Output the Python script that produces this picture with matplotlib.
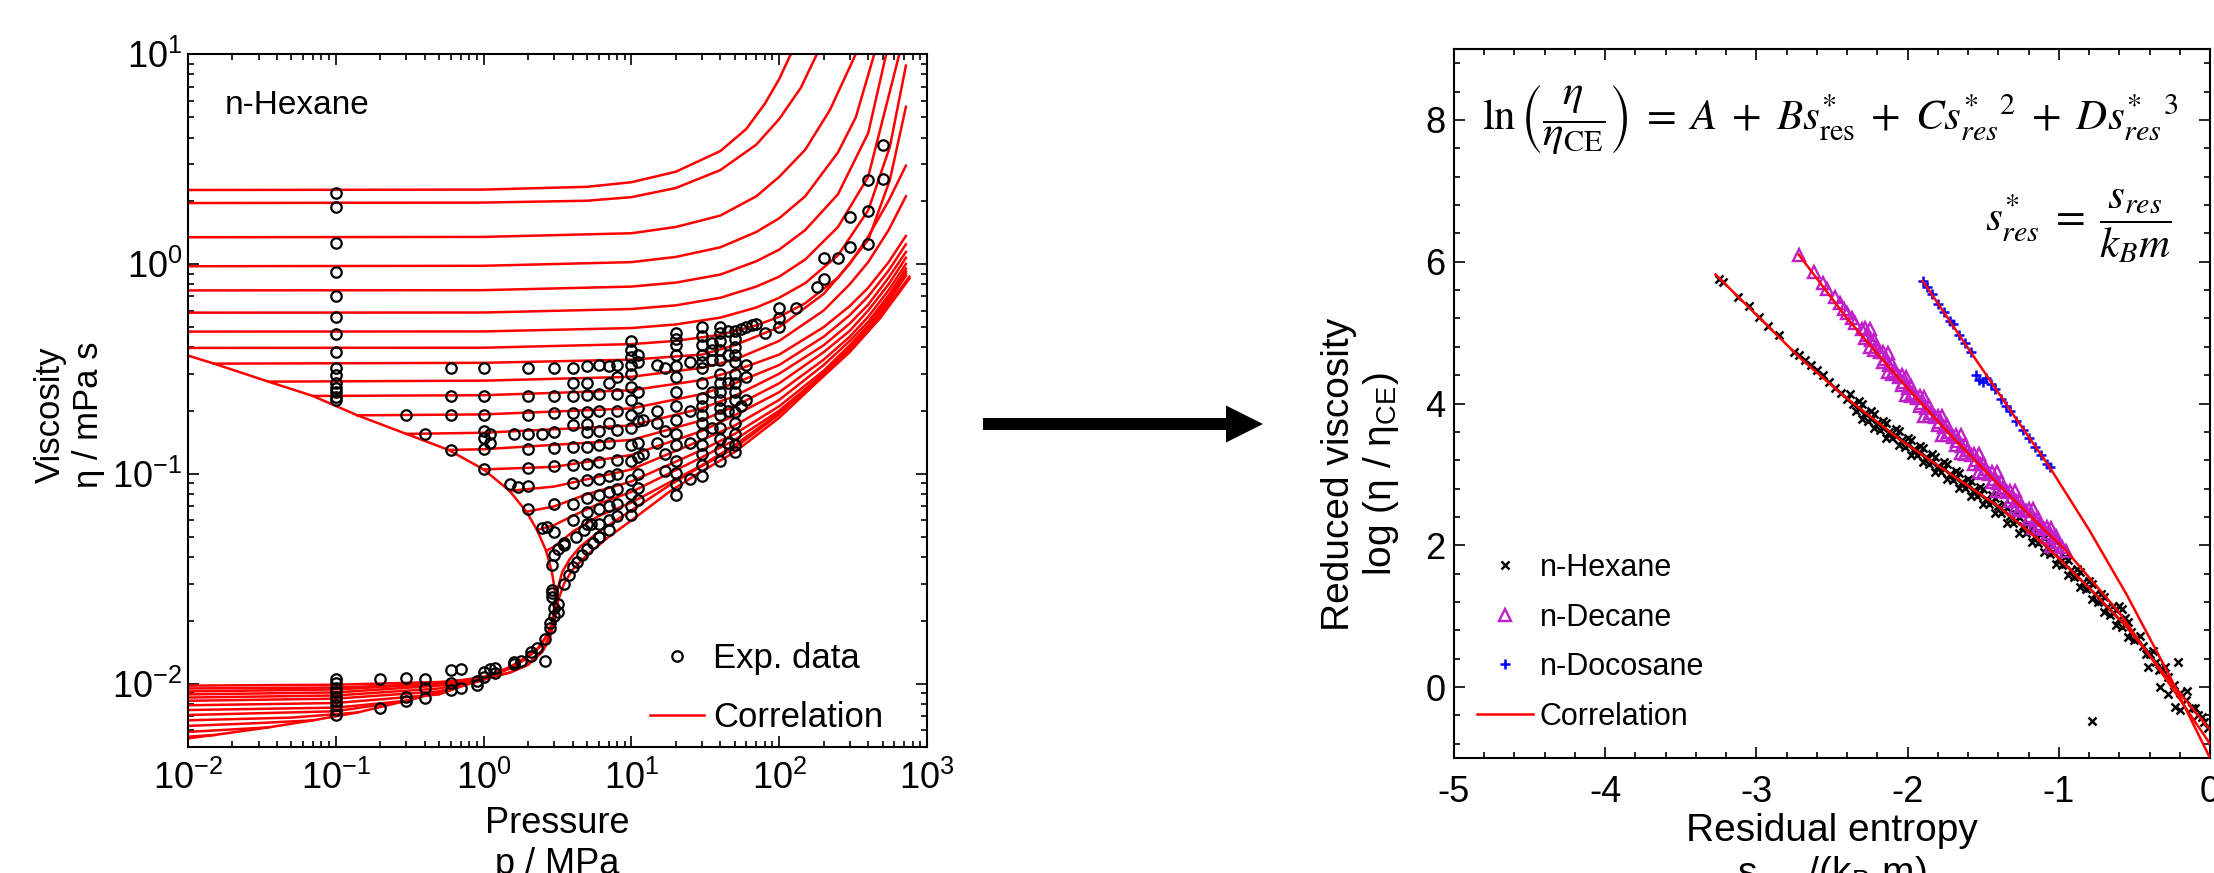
import numpy as np
import matplotlib
matplotlib.use("Agg")
import matplotlib.pyplot as plt
from matplotlib.patches import FancyArrow
from matplotlib.ticker import LogLocator, MultipleLocator, FuncFormatter, NullFormatter

plt.rcParams['font.family'] = ['Liberation Sans', 'DejaVu Sans']
plt.rcParams['mathtext.fontset'] = 'stix'
plt.rcParams['axes.unicode_minus'] = False

# ---------------- LEFT PANEL DATA (n-Hexane, p in MPa, eta in mPa s) ----------------
liq_left_p = [
    [0.01, 1, 5, 10, 20, 40, 60, 80, 100, 120],
    [0.01, 1, 5, 10, 20, 40, 70, 100, 140, 180],
    [0.01, 1, 10, 20, 40, 70, 100, 150, 220, 330],
    [0.01, 1, 10, 20, 40, 70, 100, 150, 250, 330, 440],
    [0.01, 1, 10, 20, 40, 70, 100, 150, 250, 400, 530],
    [0.01, 1, 10, 20, 40, 70, 100, 150, 250, 400, 650],
    [0.01, 1, 10, 20, 40, 70, 100, 150, 250, 400, 560, 720],
    [0.01, 1, 10, 20, 40, 70, 100, 150, 250, 400, 560, 720],
]
liq_left_eta = [
    [2.25, 2.26, 2.33, 2.45, 2.75, 3.45, 4.4, 5.8, 7.6, 10.0],
    [1.95, 1.96, 2.0, 2.08, 2.3, 2.8, 3.7, 4.9, 6.9, 10.0],
    [1.34, 1.345, 1.4, 1.5, 1.7, 2.1, 2.6, 3.5, 5.4, 10.0],
    [0.975, 0.98, 1.02, 1.08, 1.2, 1.42, 1.65, 2.1, 3.4, 5.0, 10.0],
    [0.748, 0.75, 0.78, 0.815, 0.89, 1.03, 1.17, 1.45, 2.15, 4.2, 10.0],
    [0.586, 0.587, 0.61, 0.635, 0.69, 0.78, 0.87, 1.05, 1.5, 2.6, 10.0],
    [0.476, 0.477, 0.495, 0.515, 0.555, 0.62, 0.69, 0.81, 1.1, 1.8, 3.6, 8.8],
    [0.398, 0.399, 0.415, 0.43, 0.46, 0.51, 0.56, 0.65, 0.86, 1.3, 2.5, 5.6],
]
liq_sat_p = [
    [0.015, 1, 10, 30, 50, 100, 200, 300, 400, 550, 720],
    [0.035, 1, 10, 30, 50, 100, 200, 300, 400, 550, 720],
    [0.07, 1, 10, 30, 50, 100, 200, 300, 400, 550, 720],
    [0.14, 1, 10, 30, 50, 100, 200, 300, 400, 550, 720],
    [0.3, 1, 10, 30, 50, 100, 200, 300, 400, 550, 720],
    [0.58, 1, 10, 30, 50, 100, 200, 300, 400, 550, 720],
    [1.0, 3, 10, 30, 50, 100, 200, 300, 400, 550, 720],
    [1.5, 3, 10, 30, 50, 100, 200, 300, 400, 550, 720],
    [1.95, 3, 5, 10, 30, 50, 100, 200, 300, 400, 550, 720],
    [2.3, 3, 4, 6, 10, 30, 50, 100, 200, 300, 400, 550, 720],
    [2.65, 3, 3.5, 4, 6, 10, 30, 50, 100, 200, 300, 400, 550, 720],
]
liq_sat_eta = [
    [0.335, 0.338, 0.35, 0.37, 0.41, 0.5, 0.72, 1.0, 1.35, 2.0, 2.94],
    [0.275, 0.278, 0.29, 0.32, 0.35, 0.43, 0.6, 0.8, 1.02, 1.45, 2.1],
    [0.235, 0.237, 0.25, 0.28, 0.31, 0.37, 0.5, 0.63, 0.77, 1.02, 1.36],
    [0.19, 0.192, 0.205, 0.24, 0.27, 0.33, 0.45, 0.57, 0.7, 0.93, 1.24],
    [0.155, 0.157, 0.17, 0.205, 0.235, 0.3, 0.41, 0.52, 0.64, 0.86, 1.14],
    [0.13, 0.131, 0.145, 0.18, 0.21, 0.27, 0.38, 0.48, 0.6, 0.8, 1.07],
    [0.105, 0.108, 0.123, 0.16, 0.19, 0.245, 0.35, 0.45, 0.56, 0.75, 1.0],
    [0.083, 0.087, 0.105, 0.145, 0.17, 0.225, 0.33, 0.43, 0.53, 0.71, 0.95],
    [0.066, 0.07, 0.08, 0.092, 0.13, 0.155, 0.21, 0.31, 0.41, 0.51, 0.69, 0.92],
    [0.054, 0.057, 0.063, 0.072, 0.082, 0.12, 0.145, 0.2, 0.3, 0.4, 0.5, 0.67, 0.9],
    [0.043, 0.045, 0.049, 0.053, 0.063, 0.073, 0.11, 0.137, 0.195, 0.295, 0.39, 0.49, 0.66, 0.88],
]
gas_p = [
    [0.01, 0.015], [0.01, 0.035], [0.01, 0.03, 0.07], [0.01, 0.05, 0.14],
    [0.01, 0.1, 0.3], [0.01, 0.1, 0.3, 0.58], [0.01, 0.1, 0.5, 1.0],
    [0.01, 0.1, 0.5, 1.0, 1.5], [0.01, 0.1, 0.5, 1, 1.5, 1.95],
    [0.01, 0.1, 0.5, 1, 1.5, 2, 2.3], [0.01, 0.1, 0.5, 1, 1.5, 2, 2.4, 2.65],
]
gas_eta = [
    [0.0056, 0.0057], [0.0059, 0.0062], [0.0063, 0.0065, 0.0067], [0.0067, 0.0069, 0.0073],
    [0.0071, 0.0074, 0.0083], [0.0075, 0.0077, 0.0083, 0.0094], [0.0079, 0.0081, 0.0089, 0.0106],
    [0.0083, 0.0085, 0.0092, 0.0104, 0.0119], [0.0086, 0.0088, 0.0095, 0.0106, 0.0118, 0.0132],
    [0.0089, 0.0091, 0.0098, 0.0107, 0.0119, 0.0135, 0.0146],
    [0.0092, 0.0094, 0.0100, 0.0108, 0.012, 0.0136, 0.015, 0.0168],
]
super_p = [
    [0.01, 0.1, 0.5, 1, 1.5, 2, 2.5, 2.8, 3.0, 3.2, 3.5, 4, 5, 7, 10, 18, 28, 50, 100, 187, 300, 480, 760],
    [0.01, 0.1, 0.5, 1, 1.5, 2, 2.5, 2.8, 3.0, 3.1, 3.2, 3.4, 3.8, 4.5, 6, 10, 18, 28, 50, 100, 187, 300, 480, 760],
]
super_eta = [
    [0.0098, 0.0099, 0.0102, 0.0106, 0.0113, 0.0123, 0.0142, 0.0165, 0.0195, 0.025, 0.03, 0.035, 0.041,
     0.05, 0.06, 0.082, 0.1, 0.127, 0.185, 0.28, 0.38, 0.55, 0.85],
    [0.0095, 0.0096, 0.0100, 0.0105, 0.0113, 0.0124, 0.0145, 0.017, 0.021, 0.025, 0.029, 0.034, 0.039,
     0.045, 0.053, 0.067, 0.088, 0.106, 0.133, 0.192, 0.29, 0.39, 0.56, 0.87],
]
sat_liq_p = [0.01, 0.015, 0.035, 0.07, 0.14, 0.3, 0.58, 1.0, 1.5, 1.95, 2.3, 2.65, 2.9, 3.08]
sat_liq_eta = [0.366, 0.335, 0.275, 0.235, 0.19, 0.155, 0.13, 0.105, 0.083, 0.066, 0.054, 0.043, 0.034, 0.026]
sat_vap_p = [0.01, 0.015, 0.035, 0.07, 0.14, 0.3, 0.58, 1.0, 1.5, 1.95, 2.3, 2.65, 2.9, 3.08]
sat_vap_eta = [0.0055, 0.0057, 0.0062, 0.0067, 0.0073, 0.0083, 0.0094, 0.0106, 0.0119, 0.0132, 0.0146,
               0.0168, 0.0195, 0.026]

exp_col_p = [0.1, 0.3, 0.4, 0.6, 1.0, 1.1, 1.5, 1.6, 1.7, 2.0, 2.5, 2.7, 3.0, 3.5, 4.0, 5.0, 6.0, 7.0, 8.0,
             10, 11, 12, 15, 17, 20, 25, 30, 35, 40, 45, 50, 55, 60, 65, 70, 80, 100, 130, 180, 200,
             250, 300, 400, 500]
exp_col_eta = [
    [2.18, 1.87, 1.26, 0.916, 0.705, 0.56, 0.464, 0.381, 0.32, 0.296, 0.27, 0.257, 0.245, 0.233, 0.225],
    [0.19], [0.155], [0.32, 0.235, 0.19, 0.13],
    [0.32, 0.235, 0.19, 0.16, 0.148, 0.132, 0.105], [0.155, 0.14], [0.089], [0.155], [0.087],
    [0.32, 0.235, 0.19, 0.155, 0.131, 0.107, 0.088, 0.068], [0.155, 0.055], [0.056],
    [0.32, 0.235, 0.195, 0.158, 0.133, 0.109, 0.072, 0.053], [0.046],
    [0.32, 0.27, 0.235, 0.195, 0.17, 0.134, 0.11, 0.09, 0.072, 0.06],
    [0.325, 0.27, 0.237, 0.197, 0.172, 0.158, 0.135, 0.112, 0.093, 0.077, 0.066, 0.058],
    [0.33, 0.24, 0.2, 0.16, 0.137, 0.114, 0.095, 0.079, 0.068, 0.058, 0.05],
    [0.325, 0.27, 0.175, 0.14, 0.098, 0.082, 0.07, 0.06, 0.054],
    [0.33, 0.29, 0.24, 0.2, 0.162, 0.117, 0.1, 0.085, 0.072, 0.063],
    [0.43, 0.39, 0.36, 0.33, 0.3, 0.26, 0.225, 0.19, 0.165, 0.137, 0.115, 0.093, 0.08, 0.07, 0.064],
    [0.37, 0.34, 0.245, 0.205, 0.178, 0.14, 0.12, 0.1, 0.086, 0.075], [0.18, 0.125],
    [0.33, 0.2, 0.175, 0.14], [0.32, 0.16, 0.125, 0.103],
    [0.47, 0.44, 0.41, 0.37, 0.325, 0.29, 0.245, 0.21, 0.18, 0.155, 0.137, 0.115, 0.101, 0.089, 0.079],
    [0.34, 0.2, 0.14, 0.095],
    [0.50, 0.455, 0.41, 0.37, 0.34, 0.32, 0.27, 0.23, 0.21, 0.19, 0.175, 0.155, 0.137, 0.125, 0.11, 0.098],
    [0.42, 0.39, 0.35, 0.245, 0.165],
    [0.50, 0.47, 0.43, 0.39, 0.35, 0.30, 0.27, 0.245, 0.225, 0.205, 0.19, 0.165, 0.147, 0.13, 0.115],
    [0.48, 0.37, 0.27, 0.2, 0.14],
    [0.48, 0.44, 0.40, 0.37, 0.34, 0.30, 0.27, 0.245, 0.225, 0.197, 0.175, 0.155, 0.137, 0.127],
    [0.49, 0.21], [0.50, 0.33, 0.29, 0.225], [0.51], [0.52], [0.47], [0.62, 0.55, 0.50], [0.62],
    [0.78], [1.07, 0.85], [1.07], [1.67, 1.2], [2.52, 1.79, 1.24], [3.7, 2.55],
]
exp_gas_p = [0.1, 0.1, 0.1, 0.1, 0.1, 0.1, 0.1, 0.1, 0.1, 0.2, 0.2, 0.3, 0.3, 0.3, 0.4, 0.4, 0.4,
             0.6, 0.6, 0.6, 0.7, 0.7, 0.9, 0.9, 1.0, 1.0, 1.1, 1.2, 1.2, 1.6, 1.6, 1.8, 2.1, 2.1, 2.3,
             2.6, 2.6, 2.8, 2.8, 2.9, 2.9, 2.9, 3.0, 3.0, 3.2, 3.2,
             2.9, 3.0, 3.2, 3.5, 3.5, 3.8, 4.0, 4.3, 4.6, 5.0, 5.5, 6.0, 4.2, 4.8, 5.3]
exp_gas_eta = [0.0071, 0.0075, 0.0079, 0.0083, 0.0087, 0.0091, 0.0096, 0.0101, 0.0105, 0.0077, 0.0105,
               0.0083, 0.0087, 0.0107, 0.0086, 0.0096, 0.0105, 0.0093, 0.0101, 0.0116, 0.0095, 0.0117,
               0.0099, 0.0103, 0.0108, 0.0114, 0.0118, 0.0113, 0.0119, 0.0124, 0.0127, 0.0128, 0.0136,
               0.0142, 0.0148, 0.0128, 0.0163, 0.0185, 0.0195, 0.026, 0.027, 0.028, 0.021, 0.023,
               0.024, 0.022,
               0.037, 0.041, 0.044, 0.047, 0.030, 0.033, 0.036, 0.038, 0.041, 0.044, 0.047, 0.050,
               0.05, 0.054, 0.058]

# ---------------- RIGHT PANEL DATA ----------------
hex_s = [-3.25, -3.22, -3.12, -3.05, -2.98, -2.92, -2.85, -2.75, -2.72, -2.68, -2.64, -2.60, -2.56,
         -2.52, -2.48, -2.44, -2.40, -2.36, -2.32, -2.28, -2.24, -2.20, -2.16, -2.12, -2.08, -2.04,
         -2.00, -1.96, -1.92, -1.88, -1.84, -1.80, -1.76, -1.72, -1.68, -1.64, -1.60, -1.56, -1.52,
         -1.48, -1.44, -1.40, -1.36, -1.32, -1.28, -1.24, -1.20, -1.16, -1.12, -1.08, -1.04, -1.00,
         -0.96, -0.92, -0.88, -0.84, -0.80, -0.76, -0.72, -0.68, -0.64, -0.60, -0.56, -0.52, -0.48,
         -0.44, -0.40, -0.36, -0.32, -0.28, -0.24, -0.20, -0.16, -0.12, -0.08, -0.04, -0.01,
         -2.38, -2.30, -2.22, -2.14, -2.06, -1.98, -1.90, -1.82, -1.74, -1.66, -1.58, -1.50, -1.42,
         -1.34, -1.26, -1.18, -1.10, -1.02, -0.94, -0.86, -0.78, -0.70, -0.62, -0.54, -0.46, -0.38,
         -0.30,
         -2.34, -2.26, -2.18, -2.10, -2.02, -1.94, -1.86, -1.78, -1.70, -1.62, -1.54, -1.46, -1.38,
         -1.30, -1.22, -1.14, -1.06, -0.98, -0.90, -0.82, -0.74, -0.66, -0.58, -0.50, -0.42, -0.34,
         -2.32, -2.24, -2.16, -2.08, -2.00, -1.92, -1.84, -1.76, -1.68, -1.60, -1.52, -1.44, -1.36,
         -1.28, -1.20, -1.12, -1.04, -0.96, -0.88, -0.80, -0.72, -0.64, -0.56,
         -2.30, -2.22, -2.14, -2.06, -1.98, -1.90, -1.82, -1.74, -1.66, -1.58, -1.50, -1.42, -1.34,
         -1.26, -1.18, -1.10, -1.02, -0.94, -0.86, -0.78, -0.70, -0.62, -0.54,
         -0.78, -0.41, -0.33, -0.28, -0.23, -0.20, -0.21, -0.60, -0.58, -0.15, -0.10, -0.05]
hex_v = [5.75, 5.72, 5.50, 5.37, 5.22, 5.10, 4.97, 4.72, 4.68, 4.62, 4.55, 4.47, 4.40,
         4.30, 4.22, 4.15, 4.07, 4.00, 3.92, 3.86, 3.78, 3.72, 3.66, 3.60, 3.54, 3.48,
         3.41, 3.36, 3.30, 3.24, 3.18, 3.12, 3.07, 3.01, 2.95, 2.89, 2.84, 2.78, 2.72,
         2.66, 2.61, 2.55, 2.48, 2.41, 2.34, 2.27, 2.20, 2.13, 2.06, 1.98, 1.90, 1.82,
         1.74, 1.65, 1.57, 1.48, 1.40, 1.31, 1.22, 1.13, 1.04, 0.96, 0.87, 0.78, 0.68,
         0.58, 0.47, 0.36, 0.25, 0.14, 0.03, -0.08, -0.18, -0.29, -0.39, -0.49, -0.57,
         4.14, 3.99, 3.85, 3.72, 3.61, 3.48, 3.37, 3.25, 3.14, 3.02, 2.90, 2.79, 2.67,
         2.53, 2.40, 2.25, 2.11, 1.95, 1.79, 1.62, 1.45, 1.27, 1.09, 0.92, 0.72, 0.51,
         0.28,
         3.90, 3.76, 3.63, 3.51, 3.39, 3.27, 3.15, 3.03, 2.92, 2.81, 2.69, 2.58, 2.46,
         2.32, 2.18, 2.03, 1.88, 1.72, 1.55, 1.38, 1.20, 1.02, 0.85, 0.67, 0.46, 0.24,
         4.03, 3.89, 3.76, 3.64, 3.52, 3.40, 3.29, 3.17, 3.05, 2.94, 2.82, 2.71, 2.58,
         2.44, 2.30, 2.16, 2.00, 1.84, 1.67, 1.50, 1.32, 1.14, 0.97,
         3.78, 3.65, 3.52, 3.41, 3.28, 3.17, 3.04, 2.93, 2.81, 2.69, 2.58, 2.46, 2.32,
         2.18, 2.04, 1.90, 1.74, 1.58, 1.41, 1.24, 1.06, 0.88, 0.70,
         -0.48, 0.28, 0.0, -0.10, -0.28, -0.32, 0.35, 1.15, 1.10, -0.05, -0.30, -0.42]

dec_s = [-2.72, -2.62, -2.56, -2.53, -2.48, -2.45, -2.42, -2.40, -2.37, -2.35, -2.30, -2.27, -2.24,
         -2.21, -2.18, -2.15, -2.12, -2.09, -2.06, -2.03, -2.00, -1.97, -1.94, -1.91, -1.88, -1.85,
         -1.82, -1.79, -1.76, -1.73, -1.70, -1.67, -1.64, -1.61, -1.58, -1.55, -1.52, -1.49, -1.46,
         -1.43, -1.40, -1.37, -1.34, -1.31, -1.28, -1.25, -1.22, -1.19, -1.16, -1.13, -1.10, -1.07,
         -1.04, -1.01, -0.98, -0.95,
         -2.28, -2.22, -2.16, -2.10, -2.04, -1.98, -1.92, -1.86, -1.80, -1.74, -1.68, -1.62, -1.56,
         -1.50, -1.44, -1.38, -1.32, -1.26, -1.20, -1.14, -1.08, -1.02,
         -2.28, -2.22, -2.16, -2.10, -2.04, -1.98, -1.92, -1.86, -1.80, -1.74, -1.68, -1.62, -1.56,
         -1.50, -1.44, -1.38, -1.32, -1.26, -1.20, -1.14, -1.08, -1.02,
         -2.25, -2.13, -2.01, -1.89, -1.77, -1.65, -1.53, -1.41, -1.29, -1.17, -1.05,
         -2.25, -2.13, -2.01, -1.89, -1.77, -1.65, -1.53, -1.41, -1.29, -1.17, -1.05]
dec_v = [6.10, 5.85, 5.70, 5.62, 5.50, 5.42, 5.33, 5.28, 5.20, 5.14, 5.05, 4.97, 4.90,
         4.80, 4.72, 4.63, 4.55, 4.46, 4.38, 4.30, 4.22, 4.15, 4.08, 4.01, 3.94, 3.87,
         3.81, 3.74, 3.67, 3.60, 3.53, 3.47, 3.40, 3.34, 3.27, 3.20, 3.14, 3.07, 3.01,
         2.94, 2.88, 2.81, 2.75, 2.68, 2.62, 2.55, 2.49, 2.42, 2.36, 2.30, 2.23, 2.17,
         2.11, 2.04, 1.98, 1.92,
         5.07, 4.90, 4.73, 4.56, 4.40, 4.24, 4.10, 3.96, 3.83, 3.69, 3.56, 3.43, 3.29,
         3.16, 3.03, 2.90, 2.77, 2.64, 2.51, 2.39, 2.26, 2.13,
         4.93, 4.76, 4.59, 4.42, 4.26, 4.10, 3.96, 3.82, 3.69, 3.55, 3.42, 3.29, 3.15,
         3.02, 2.89, 2.76, 2.63, 2.50, 2.37, 2.25, 2.12, 1.99,
         5.05, 4.71, 4.38, 4.09, 3.82, 3.56, 3.29, 3.03, 2.77, 2.51, 2.25,
         4.79, 4.45, 4.12, 3.83, 3.56, 3.30, 3.03, 2.77, 2.51, 2.25, 1.99]

doc_s = [-1.90, -1.87, -1.84, -1.80, -1.76, -1.72, -1.70, -1.66, -1.62, -1.58, -1.55, -1.53, -1.50,
         -1.48, -1.45, -1.42, -1.38, -1.35, -1.32, -1.28, -1.24, -1.20, -1.16, -1.12, -1.08, -1.06]
doc_v = [5.73, 5.64, 5.54, 5.41, 5.29, 5.16, 5.12, 4.97, 4.85, 4.72, 4.40, 4.33, 4.30,
         4.36, 4.28, 4.20, 4.07, 3.97, 3.90, 3.76, 3.63, 3.52, 3.39, 3.27, 3.14, 3.10]

corr_hex_s = [-3.27, -3.0, -2.7, -2.4, -2.05, -1.7, -1.4, -1.1, -0.8, -0.55, -0.27, 0.0]
corr_hex_v = [5.82, 5.25, 4.62, 4.07, 3.49, 2.98, 2.55, 2.02, 1.40, 0.85, 0.10, -0.60]
corr_dec_s = [-2.72, -2.4, -2.05, -1.7, -1.35, -0.95, -0.6, -0.27, 0.0]
corr_dec_v = [6.10, 5.20, 4.33, 3.52, 2.75, 1.92, 1.05, 0.05, -0.80]
corr_doc_s = [-1.90, -1.6, -1.3, -1.06, -0.8, -0.55, -0.27, 0.0]
corr_doc_v = [5.73, 4.78, 3.84, 3.10, 2.22, 1.30, 0.17, -1.00]

# ---------------- FIGURE ----------------
W, H = 2214, 873
fig = plt.figure(figsize=(W / 100, H / 100), dpi=100)


def frac(x0, y0, x1, y1):
    return [x0 / W, 1 - y1 / H, (x1 - x0) / W, (y1 - y0) / H]


RED = '#ff0000'
LW = 1.8
FS_TICK = 26

axbg = fig.add_axes([0, 0, 1, 1], zorder=-1)
axbg.set_xlim(0, W)
axbg.set_ylim(H, 0)
axbg.axis('off')
axbg.add_patch(FancyArrow(983, 424, 280, 0, width=12, head_width=37, head_length=37,
                          length_includes_head=True, fc='black', ec='none'))

# ---- left panel
axL = fig.add_axes(frac(188, 54, 927, 747))
axL.set_xscale('log')
axL.set_yscale('log')

first = True
for fam_p, fam_e in [(liq_left_p, liq_left_eta), (liq_sat_p, liq_sat_eta), (gas_p, gas_eta),
                     (super_p, super_eta), ([sat_liq_p, sat_vap_p], [sat_liq_eta, sat_vap_eta])]:
    for pp, ee in zip(fam_p, fam_e):
        axL.plot(pp, ee, color=RED, lw=LW, label='Correlation' if first else None, zorder=2)
        first = False

exp_p_all = [p for p, col in zip(exp_col_p, exp_col_eta) for _ in col] + exp_gas_p
exp_e_all = [e for col in exp_col_eta for e in col] + exp_gas_eta
axL.plot(exp_p_all, exp_e_all, 'o', mfc='none', mec='black', ms=7.5, mew=1.6,
         label='Exp. data', zorder=3)

axL.set_xlim(0.01, 1000)
axL.set_ylim(0.005, 10)
fmt = FuncFormatter(lambda v, pos: r'$\mathregular{10^{%d}}$' % int(round(np.log10(v))))
for a in (axL.xaxis, axL.yaxis):
    a.set_major_locator(LogLocator(base=10, numticks=10))
    a.set_minor_locator(LogLocator(base=10, subs=np.arange(2, 10), numticks=20))
    a.set_major_formatter(fmt)
    a.set_minor_formatter(NullFormatter())

axL.text(0.05, 0.926, 'n-Hexane', transform=axL.transAxes, fontsize=24, ha='left', va='center')
axL.set_xlabel('Pressure\np / MPa', fontsize=26, ha='center', va='center', linespacing=1.2)
axL.xaxis.set_label_coords(0.5, -0.14)
axL.set_ylabel('Viscosity\nη / mPa s', fontsize=25, ha='center', va='center', linespacing=1.2)
axL.yaxis.set_label_coords(-0.16, 0.48)

handles, labels = axL.get_legend_handles_labels()
order = [labels.index('Exp. data'), labels.index('Correlation')]
axL.legend([handles[i] for i in order], [labels[i] for i in order], loc='upper left',
           bbox_to_anchor=(650 / W, 1 - 642 / H), bbox_transform=fig.transFigure,
           frameon=False, fontsize=25, borderpad=0, borderaxespad=0, handlelength=1.56,
           handletextpad=0.26, labelspacing=0.74)

# ---- right panel
axR = fig.add_axes(frac(1454, 49, 2210, 758))
axR.plot(hex_s, hex_v, 'x', color='black', ms=5.5, mew=1.8, label='n-Hexane', zorder=3)
axR.plot(dec_s, dec_v, '^', mfc='none', mec='#c020c8', ms=8, mew=1.7, label='n-Decane', zorder=3)
axR.plot(doc_s, doc_v, '+', color='#0000ff', ms=6.5, mew=1.8, label='n-Docosane', zorder=3)
axR.plot(corr_hex_s, corr_hex_v, color=RED, lw=LW, label='Correlation', zorder=4)
axR.plot(corr_dec_s, corr_dec_v, color=RED, lw=LW, zorder=4)
axR.plot(corr_doc_s, corr_doc_v, color=RED, lw=LW, zorder=4)
axR.set_xlim(-5, 0)
axR.set_ylim(-1, 9)
axR.xaxis.set_major_locator(MultipleLocator(1))
axR.xaxis.set_minor_locator(MultipleLocator(0.2))
axR.yaxis.set_major_locator(MultipleLocator(2))
axR.yaxis.set_minor_locator(MultipleLocator(0.4))
axR.xaxis.set_major_formatter(FuncFormatter(lambda v, pos: '%d' % int(round(v))))
axR.yaxis.set_major_formatter(FuncFormatter(lambda v, pos: '%d' % int(round(v))))

axR.set_xlabel('Residual entropy\n' + r's$_{\mathregular{res}}$ /(k$_{\mathregular{B}}$ m)',
               fontsize=28, ha='center', va='center', linespacing=1.15)
axR.xaxis.set_label_coords(0.5, -0.135)
axR.set_ylabel('Reduced viscosity\n' + r'log (η / η$_{\mathregular{CE}}$)', fontsize=28,
               ha='center', va='center', linespacing=1.15)
axR.yaxis.set_label_coords(-0.123, 0.40)

eq1 = (r'$\ln\left(\dfrac{\eta}{\eta_{\mathrm{CE}}}\right)\;=\;A\;+\;Bs^{*}_{\mathrm{res}}'
       r'\;+\;Cs^{*}_{res}{}^{2}\;+\;Ds^{*}_{res}{}^{3}$')
eq2 = r'$s^{*}_{res}\;=\;\dfrac{s_{res}}{k_{B}m}$'
axR.text(0.958, 0.900, eq1, transform=axR.transAxes, fontsize=31, ha='right', va='center')
axR.text(0.950, 0.750, eq2, transform=axR.transAxes, fontsize=31, ha='right', va='center')

axR.legend(loc='upper left', bbox_to_anchor=(1477 / W, 1 - 553 / H), bbox_transform=fig.transFigure,
           frameon=False, fontsize=22, borderpad=0, borderaxespad=0, handlelength=1.83,
           handletextpad=0.23, labelspacing=0.64)

for ax in (axL, axR):
    for sp in ax.spines.values():
        sp.set_linewidth(1.5)
    ax.tick_params(which='both', direction='in', top=True, right=True, labelsize=FS_TICK, width=1.2)
    ax.tick_params(which='major', length=8)
    ax.tick_params(which='minor', length=4)
axL.tick_params(axis='x', which='major', pad=10)
axL.tick_params(axis='y', which='major', pad=4)
axR.tick_params(axis='x', which='major', pad=12)
axR.tick_params(axis='y', which='major', pad=6)

fig.savefig('out.png', dpi=100)
